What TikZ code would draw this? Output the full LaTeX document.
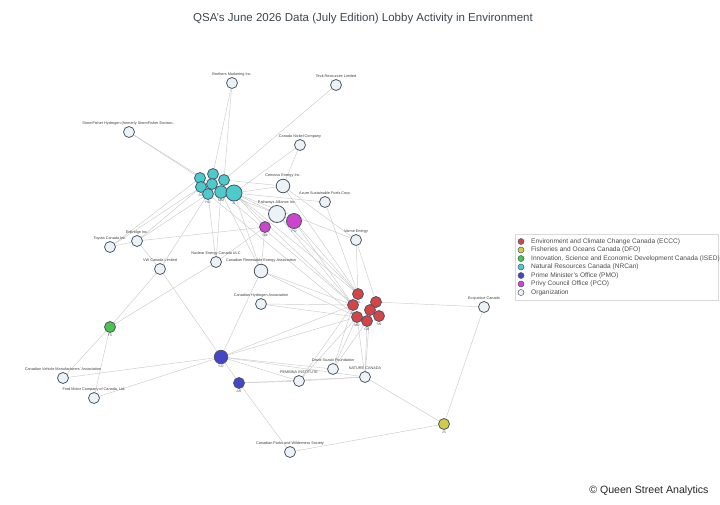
\documentclass[tikz,border=0pt]{standalone}
\usepackage{fontspec}
\setmainfont{Liberation Sans}
\usetikzlibrary{backgrounds}
\definecolor{orgfill}{HTML}{EDF2F7}
\definecolor{orgbd}{HTML}{4A5868}
\definecolor{ecccc}{HTML}{D54545}
\definecolor{dfoc}{HTML}{D2CC45}
\definecolor{isedc}{HTML}{4DC24D}
\definecolor{nrcc}{HTML}{4DCACC}
\definecolor{pmoc}{HTML}{4545C8}
\definecolor{pcoc}{HTML}{CC45CC}
\definecolor{edgec}{HTML}{CBCBCB}
\definecolor{titlec}{HTML}{3C4650}
\tikzset{
  nd/.style={circle, draw=orgbd, line width=0.8pt, inner sep=0pt, minimum size=11pt},
  org/.style={nd, fill=orgfill},
  big/.style={minimum size=#1pt},
  olab/.style={font=\fontsize{3.8}{4}\selectfont, text=black!75, inner sep=0.6pt, label distance=0.4pt},
  slab/.style={font=\fontsize{3.5}{4}\selectfont, text=black!65, inner sep=0.4pt, label distance=0.2pt},
  eccc/.style={nd, fill=ecccc},
  dfo/.style={nd, fill=dfoc},
  ised/.style={nd, fill=isedc},
  nrc/.style={nd, fill=nrcc},
  pmo/.style={nd, fill=pmoc},
  pco/.style={nd, fill=pcoc},
  edge/.style={draw=edgec, line width=0.45pt},
  legmark/.style={circle, draw=orgbd, line width=0.5pt, inner sep=0pt, minimum size=6pt},
  legtxt/.style={font=\fontsize{6.6}{7}\selectfont, text=black!70, anchor=west, inner sep=0pt},
}
\begin{document}
\begin{tikzpicture}[x=1pt, y=-1pt]
\useasboundingbox (0,0) rectangle (720,504);
% title
\node[font=\fontsize{11.5}{13}\selectfont, text=titlec] (title) at (363,19) {QSA's June 2026 Data (July Edition) Lobby Activity in Environment};
\node[font=\fontsize{10.6}{12}\selectfont, text=black!85, anchor=east] (copy) at (712,491) {\textcopyright{} Queen Street Analytics};

% NRCan
\node[nrc] (n1) at (200,178) {};
\node[nrc] (n2) at (213,174) {};
\node[nrc] (n3) at (224,180) {};
\node[nrc] (n4) at (212,184) {};
\node[nrc, label={[slab]below:AS}] (n5) at (201,187) {};
\node[nrc, label={[slab]below:HO}] (n6) at (208,194) {};
\node[nrc, big=12.5, label={[slab]below:MM}] (n7) at (221,192) {};
\node[nrc, big=16, label={[slab]below:JL}] (n8) at (234,193) {};
% PCO
\node[pco, big=15, label={[slab]below:PO}] (p1) at (294,221) {};
\node[pco, label={[slab]below:SM}] (p2) at (265,227) {};
% ECCC
\node[eccc, label={[slab]below:SG}] (e1) at (358,294) {};
\node[eccc, label={[slab]below:JM}] (e2) at (353,305) {};
\node[eccc] (e3) at (376,302) {};
\node[eccc] (e4) at (370,310) {};
\node[eccc, label={[slab]below:MD}] (e5) at (357,317) {};
\node[eccc, label={[slab]below:GB}] (e6) at (367,321) {};
\node[eccc, label={[slab]below:SN}] (e7) at (379,316) {};
% PMO
\node[pmo, big=13.5, label={[slab]below:SO}] (m1) at (221,357) {};
\node[pmo, label={[slab]below:AR}] (m2) at (239,383) {};
% ISED
\node[ised, label={[slab]below:FS}] (i1) at (110,327) {};
% DFO
\node[dfo, label={[slab]below:JS}] (d1) at (444,424) {};

% Organizations
\node[org, label={[olab]above:Brothers Marketing Inc.}] (brothers) at (232,83) {};
\node[org, label={[olab]above:Teck Resources Limited}] (teck) at (336,85) {};
\node[org, label={[olab]above:StormFisher Hydrogen (formerly StormFisher Environ...}] (storm) at (129,132) {};
\node[org, label={[olab]above:Canada Nickel Company}] (nickel) at (300,145) {};
\node[org, big=13.5, label={[olab]above:Cenovus Energy Inc.}] (cenovus) at (283,186) {};
\node[org, label={[olab]above:Azure Sustainable Fuels Corp.}] (azure) at (325,202) {};
\node[org, big=17, label={[olab]above:Pathways Alliance Inc.}] (pathways) at (277,214) {};
\node[org, label={[olab]above:Varme Energy}] (varme) at (356,240) {};
\node[org, label={[olab]above:Enbridge Inc.}] (enbridge) at (137,241) {};
\node[org, label={[olab]above:Toyota Canada Inc.}] (toyota) at (110,247) {};
\node[org, label={[olab]above:Nuclear Energy Canada ULC}] (nuclear) at (216,262) {};
\node[org, big=13.5, label={[olab]above:Canadian Renewable Energy Association}] (canrea) at (261,271) {};
\node[org, label={[olab]above:VW Canada Limited}] (vw) at (160,269) {};
\node[org, label={[olab]above:Canadian Hydrogen Association}] (hydrogen) at (261,304) {};
\node[org, label={[olab]above:Ecojustice Canada}] (ecojustice) at (484,307) {};
\node[org, label={[olab]above:David Suzuki Foundation}] (suzuki) at (333,369) {};
\node[org, label={[olab]above:PEMBINA INSTITUTE}] (pembina) at (299,381) {};
\node[org, label={[olab]above:NATURE CANADA}] (nature) at (365,377) {};
\node[org, label={[olab]above:Canadian Vehicle Manufacturers' Association}] (cvma) at (63,378) {};
\node[org, label={[olab]above:Ford Motor Company of Canada, Ltd.}] (ford) at (94,398) {};
\node[org, label={[olab]above:Canadian Parks and Wilderness Society}] (parks) at (290,452) {};

% edges
\begin{scope}[on background layer]
\foreach \a/\b in {brothers/n2, brothers/n3, teck/n3, storm/n1, storm/n4,
  nickel/n8, nickel/cenovus, cenovus/n8, cenovus/n3, cenovus/e1, cenovus/varme,
  azure/n8, azure/e1, pathways/n8, pathways/n7, pathways/e1, pathways/e2, pathways/p1,
  p1/e1, p1/e2, varme/e1, varme/e3, n8/varme, n8/e1, n7/e2, n8/e2, n6/e5,
  enbridge/n5, enbridge/p2, toyota/n1, toyota/enbridge, enbridge/vw, n5/toyota, n6/enbridge,
  vw/n6, vw/i1, vw/m1, nuclear/n7, nuclear/i1, nuclear/n6,
  canrea/n7, canrea/n8, canrea/e2, canrea/e5, canrea/m1, p2/nuclear, p2/canrea, p2/n8,
  hydrogen/e2, hydrogen/e5, ecojustice/e3, ecojustice/d1,
  suzuki/e2, suzuki/e5, suzuki/e6, suzuki/m1,
  pembina/e2, pembina/e5, pembina/m1, pembina/m2, pembina/nature,
  nature/e5, nature/e6, nature/e4, nature/m1, nature/m2, nature/d1,
  cvma/i1, cvma/m1, ford/i1, ford/m1, m1/m2, m2/parks, parks/d1, m1/e5, m1/e2}
  \draw[edge] (\a) -- (\b);
\end{scope}

% legend
\node[draw=black!15, line width=0.5pt, minimum width=203pt, minimum height=66pt, anchor=north west, inner sep=0pt] (legbox) at (515,234) {};
\foreach \i/\c/\t in {0/ecccc/Environment and Climate Change Canada (ECCC),
  1/dfoc/Fisheries and Oceans Canada (DFO),
  2/isedc/{Innovation, Science and Economic Development Canada (ISED)},
  3/nrcc/Natural Resources Canada (NRCan),
  4/pmoc/Prime Minister's Office (PMO),
  5/pcoc/Privy Council Office (PCO),
  6/orgfill/Organization} {
  \node[legmark, fill=\c] (lm\i) at (521,{241.5+8.5*\i}) {};
  \node[legtxt] (lt\i) at (531,{241.5+8.5*\i}) {\t};
}
\end{tikzpicture}
\end{document}
